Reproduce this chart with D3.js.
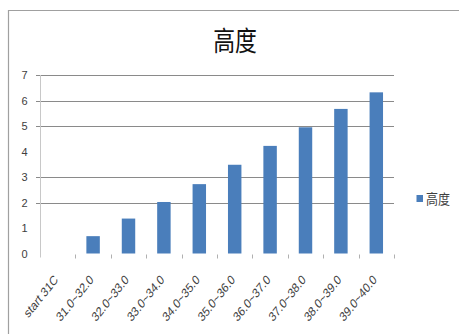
<!DOCTYPE html>
<html><head><meta charset="utf-8">
<script src="https://cdn.jsdelivr.net/npm/d3@7/dist/d3.min.js"></script>
<style>body{margin:0;background:#fff}svg{display:block}</style>
</head><body>
<script>
const title = "高度";
const seriesName = "高度";
const categories = ["start 31C","31.0~32.0","32.0~33.0","33.0~34.0","34.0~35.0","35.0~36.0","36.0~37.0","37.0~38.0","38.0~39.0","39.0~40.0"];
const values = [0, 0.68, 1.37, 2.02, 2.72, 3.48, 4.22, 4.95, 5.67, 6.32];
const yTicks = [0,1,2,3,4,5,6,7];
const visibleGridlines = [2,3,5,6,7];

const W = 459, H = 334;
const svg = d3.select("body").append("svg").attr("width", W).attr("height", H);
const plot = {left: 40, right: 394, top: 75, bottom: 253.5};
const barColor = "#4a7ebb";
const latin = "Liberation Sans, Arial, sans-serif";
const cjk = "Noto Sans CJK SC, sans-serif";

// frame
svg.append("path").attr("d", `M8.5,${H} V10.5 H${W}`).attr("fill","none").attr("stroke","#a0a0a0").attr("stroke-width",1.2);

const x = d3.scaleBand().domain(categories).range([plot.left, plot.right]).paddingInner(0.62).paddingOuter(0.31);
const xb = d3.scaleBand().domain(categories).range([plot.left, plot.right]);
const y = d3.scaleLinear().domain([0,7]).range([plot.bottom, plot.top]);

// gridlines
svg.append("g").selectAll("line").data(visibleGridlines).join("line")
  .attr("x1", plot.left - 4).attr("x2", plot.right)
  .attr("y1", d => Math.round(y(d)) + 0.5).attr("y2", d => Math.round(y(d)) + 0.5)
  .attr("stroke", "#8a8a8a").attr("stroke-width", 1);

// y axis
const yAxis = d3.axisLeft(y).tickValues(yTicks).tickSize(0).tickPadding(13).tickFormat(d3.format("d"));
const gy = svg.append("g").attr("transform", `translate(${plot.left + 0.5},0)`).call(yAxis);
gy.select(".domain").attr("stroke", "#c8c8c8").attr("d", `M0,${plot.top} V${plot.bottom + 4}`);
gy.selectAll(".tick text").attr("font-family", latin).attr("font-size", 11).attr("fill", "#404040");

// x axis ticks (band boundaries)
const bounds = categories.map(c => xb(c)).concat([plot.right]);
svg.append("g").selectAll("line").data(bounds.slice(1)).join("line")
  .attr("x1", d => Math.round(d) + 0.5).attr("x2", d => Math.round(d) + 0.5)
  .attr("y1", plot.bottom + 1).attr("y2", plot.bottom + 5)
  .attr("stroke", "#b0b0b0");

// bars
svg.append("g").selectAll("rect").data(values).join("rect")
  .attr("x", (d,i) => x(categories[i]))
  .attr("width", x.bandwidth())
  .attr("y", d => y(d))
  .attr("height", d => y(0) - y(d))
  .attr("fill", barColor);

// x labels
svg.append("g").selectAll("text").data(categories).join("text")
  .attr("transform", d => `translate(${xb(d) + xb.bandwidth()/2 + 1},${plot.bottom + 27}) scale(0.92,1.15) rotate(-45)`)
  .attr("text-anchor", "end")
  .attr("font-family", latin).attr("font-size", 11.5).attr("fill", "#404040")
  .text(d => d);

// title
svg.append("text").attr("transform", "translate(235,51) scale(0.95,1.2)").attr("text-anchor", "middle")
  .attr("font-family", cjk).attr("font-size", 23).attr("fill", "#111")
  .text(title);

// legend
svg.append("rect").attr("x", 416.5).attr("y", 195).attr("width", 6.5).attr("height", 7).attr("fill", barColor);
svg.append("text").attr("transform", "translate(426,203.5) scale(1,1.15)").attr("font-family", cjk)
  .attr("font-size", 12).attr("fill", "#404040").text(seriesName);
</script>
</body></html>
